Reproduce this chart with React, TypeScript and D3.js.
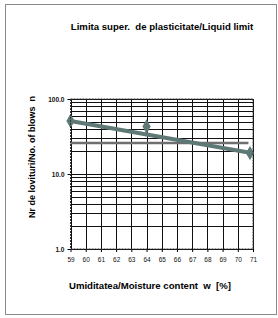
import React, { useEffect, useRef } from 'react';
import * as d3 from 'd3';

// values
const pointX = [59, 64, 70.8];
const pointN = [51, 43, 19];
const trendX = [59, 70.8];
const trendN = [51, 19.2];
const refX = [59, 70.7];
const refN = [26, 26];
const xTicks = [59, 60, 61, 62, 63, 64, 65, 66, 67, 68, 69, 70, 71];
const yTicks = [1, 10, 100];
const yLabels = ['1.0', '10.0', '100.0'];

const title = 'Limita super.  de plasticitate/Liquid limit';
const xTitle = 'Umiditatea/Moisture content  w  [%]';
const yTitle = 'Nr de lovituri/No. of blows  n';

export default function App() {
  const ref = useRef<SVGSVGElement>(null);

  useEffect(() => {
    const svg = d3.select(ref.current);
    svg.selectAll('*').remove();

    const width = 278;
    const height = 318;
    const margin = { top: 99, right: 25, bottom: 69, left: 70.5 };
    const font = 'Liberation Sans, Arial, sans-serif';

    svg.append('rect').attr('width', width).attr('height', height).attr('fill', '#fff');
    // page frame
    svg.append('rect')
      .attr('x', 5.5).attr('y', 4.5).attr('width', 271).attr('height', 310)
      .attr('fill', 'none').attr('stroke', '#8a8a8a').attr('stroke-width', 1);

    const x = d3.scaleLinear().domain([59, 71]).range([margin.left, width - margin.right]);
    const y = d3.scaleLog().domain([1, 100]).range([height - margin.bottom, margin.top]);

    // grid: minor log lines
    const minor: number[] = [];
    [1, 10].forEach(d => { for (let k = 2; k <= 9; k++) minor.push(d * k); });

    const grid = svg.append('g').attr('stroke', '#111').attr('stroke-width', 1);
    grid.selectAll('line.h')
      .data(minor.concat(yTicks))
      .join('line')
      .attr('x1', margin.left).attr('x2', width - margin.right)
      .attr('y1', d => Math.round(y(d)) + 0.5).attr('y2', d => Math.round(y(d)) + 0.5);
    grid.selectAll('line.v')
      .data(xTicks)
      .join('line')
      .attr('x1', d => Math.round(x(d)) + 0.5).attr('x2', d => Math.round(x(d)) + 0.5)
      .attr('y1', margin.top).attr('y2', height - margin.bottom);

    // axes
    const xAxis = svg.append('g')
      .attr('transform', `translate(0,${height - margin.bottom})`)
      .call(d3.axisBottom(x).tickValues(xTicks).tickSize(3).tickFormat(d3.format('d')));
    xAxis.select('.domain').remove();
    xAxis.selectAll('text').attr('font-family', font).attr('font-size', 6.5).attr('dy', '1.05em').attr('fill', '#111');

    const yAxis = svg.append('g')
      .attr('transform', `translate(${margin.left},0)`)
      .call(d3.axisLeft(y).tickValues(yTicks).tickSize(3).tickFormat((d, i) => yLabels[i]));
    yAxis.select('.domain').remove();
    yAxis.selectAll('text').attr('font-family', font).attr('font-size', 6.5).attr('font-weight', 'bold').attr('fill', '#111');

    // reference line
    const line = d3.line<number>().x(d => x(d[0])).y(d => y(d[1]));
    svg.append('path')
      .datum(refX.map((d, i) => [d, refN[i]]))
      .attr('d', line as any)
      .attr('fill', 'none').attr('stroke', '#6f6f6f').attr('stroke-width', 2.5);

    // trend line
    svg.append('path')
      .datum(trendX.map((d, i) => [d, trendN[i]]))
      .attr('d', line as any)
      .attr('fill', 'none').attr('stroke', '#5e7876').attr('stroke-width', 4);

    // points
    svg.append('g')
      .selectAll('path')
      .data(pointX.map((d, i) => [d, pointN[i]]))
      .join('path')
      .attr('transform', d => `translate(${x(d[0])},${y(d[1])})`)
      .attr('d', d3.symbol(d3.symbolDiamond, 60) as any)
      .attr('fill', '#5e7876');

    // plot border
    svg.append('rect')
      .attr('x', margin.left).attr('y', margin.top)
      .attr('width', width - margin.left - margin.right)
      .attr('height', height - margin.top - margin.bottom)
      .attr('fill', 'none').attr('stroke', '#333').attr('stroke-dasharray', '2,1');

    // titles
    svg.append('text')
      .attr('x', 162).attr('y', 30)
      .attr('text-anchor', 'middle')
      .style('white-space', 'pre')
      .attr('font-family', font).attr('font-size', 9.6).attr('font-weight', 'bold')
      .text(title);
    svg.append('text')
      .attr('x', 150).attr('y', 289)
      .attr('text-anchor', 'middle')
      .style('white-space', 'pre')
      .attr('font-family', font).attr('font-size', 9.6).attr('font-weight', 'bold')
      .text(xTitle);
    svg.append('text')
      .attr('transform', 'translate(35,157) rotate(-90)')
      .attr('text-anchor', 'middle')
      .style('white-space', 'pre')
      .attr('font-family', font).attr('font-size', 9).attr('font-weight', 'bold')
      .text(yTitle);
  }, []);

  return (
    <svg ref={ref} width={278} height={318}
      style={{ position: 'absolute', left: 0, top: 0 }} />
  );
}
